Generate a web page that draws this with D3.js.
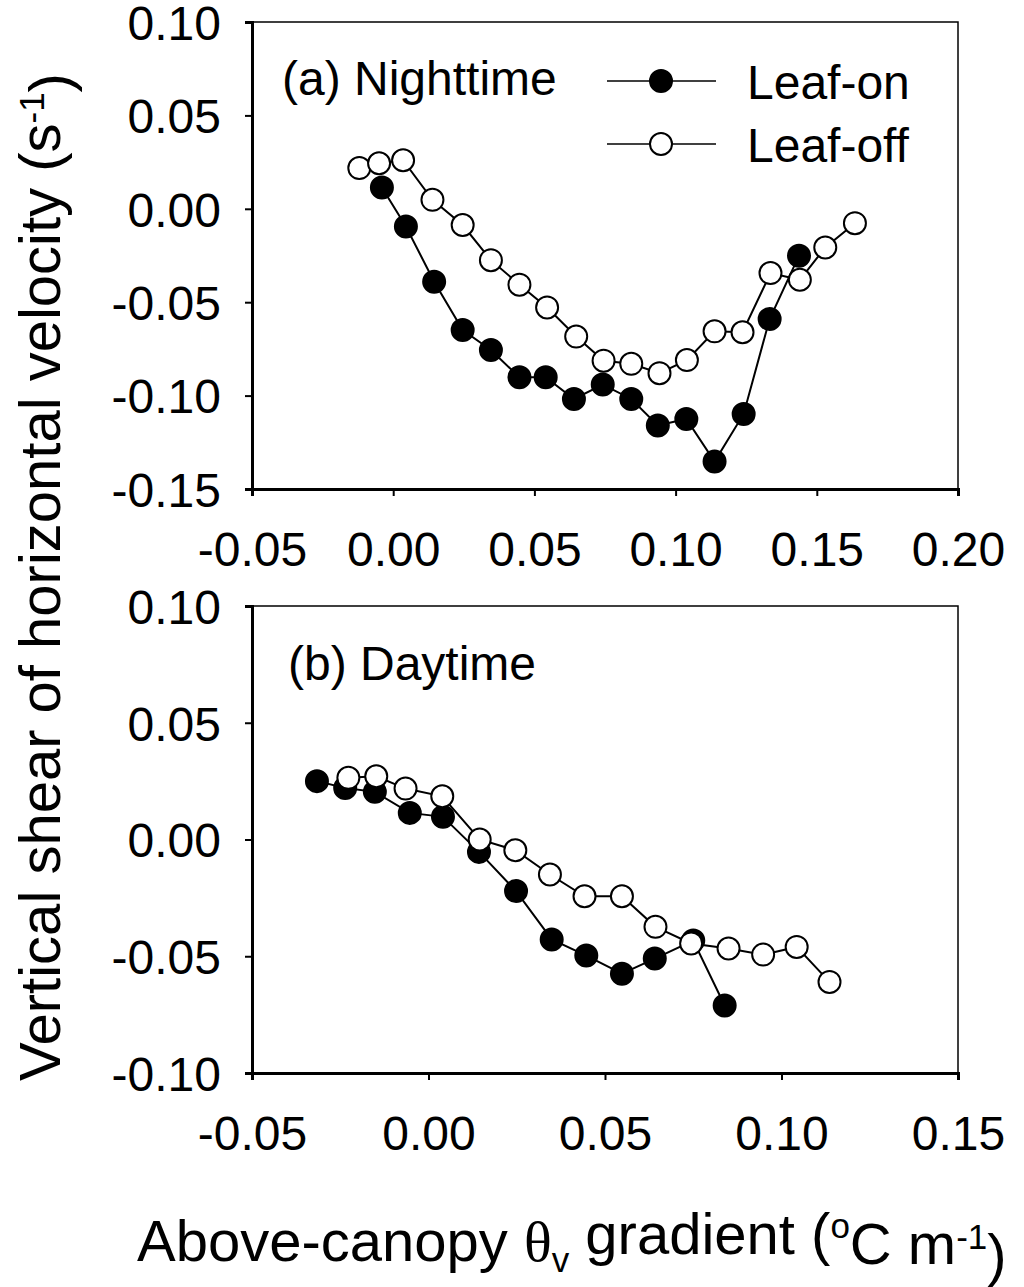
<!DOCTYPE html>
<html>
<head>
<meta charset="utf-8">
<script src="https://cdn.jsdelivr.net/npm/d3@7"></script>
<style>
  body { margin: 0; background: #fff; }
  svg text { font-family: "Liberation Sans", Arial, sans-serif; fill: #000; }
</style>
</head>
<body>
<div id="chart"></div>
<script>
// (a) Nighttime
var nightOnX = [-0.004, 0.0045, 0.0145, 0.0246, 0.0346, 0.0447, 0.054, 0.064, 0.0742, 0.0843, 0.0937, 0.1038, 0.1138, 0.1241, 0.1333, 0.1437];
var nightOnY = [0.0114, -0.0095, -0.039, -0.0649, -0.0756, -0.0902, -0.0902, -0.1018, -0.0941, -0.1018, -0.116, -0.1125, -0.1353, -0.1098, -0.059, -0.0251];
var nightOffX = [-0.012, -0.005, 0.0035, 0.0139, 0.0246, 0.0346, 0.0447, 0.0545, 0.0648, 0.0745, 0.0843, 0.0943, 0.104, 0.1138, 0.1237, 0.1336, 0.144, 0.153, 0.1635];
var nightOffY = [0.0218, 0.0244, 0.026, 0.0048, -0.0087, -0.0275, -0.0406, -0.0528, -0.0684, -0.0813, -0.083, -0.088, -0.081, -0.0656, -0.0661, -0.0344, -0.038, -0.0207, -0.0077];

// (b) Daytime
var dayOnX = [-0.0316, -0.0236, -0.0152, -0.0053, 0.0041, 0.0143, 0.0248, 0.0349, 0.0447, 0.0548, 0.0641, 0.075, 0.0839];
var dayOnY = [0.025, 0.0221, 0.0204, 0.0114, 0.0097, -0.0053, -0.0221, -0.0428, -0.0497, -0.0575, -0.051, -0.0433, -0.0711];
var dayOffX = [-0.0227, -0.0148, -0.0065, 0.0039, 0.0145, 0.0246, 0.0344, 0.0442, 0.0548, 0.0643, 0.0744, 0.085, 0.0948, 0.1043, 0.1136];
var dayOffY = [0.0264, 0.0271, 0.0218, 0.0185, 0.0, -0.0046, -0.015, -0.0243, -0.0243, -0.0374, -0.0445, -0.0467, -0.0493, -0.046, -0.061];

var topXTicks = [-0.05, 0.0, 0.05, 0.1, 0.15, 0.2];
var topYTicks = [0.1, 0.05, 0.0, -0.05, -0.1, -0.15];
var botXTicks = [-0.05, 0.0, 0.05, 0.1, 0.15];
var botYTicks = [0.1, 0.05, 0.0, -0.05, -0.1];

var seriesNames = ["Leaf-on", "Leaf-off"];

function zip(xs, ys) {
  return xs.map(function (x, i) { return { x: x, y: ys[i] }; });
}

var W = 1024, H = 1287;
var svg = d3.select("#chart").append("svg")
  .attr("width", W).attr("height", H);

// plain hyphen instead of the unicode minus, like the original
var fmt = function (d) { return d3.format(".2f")(d).replace("\u2212", "-"); };

function drawPanel(opt) {
  var x = d3.scaleLinear().domain(opt.xDomain).range([252, 958]);
  var y = d3.scaleLinear().domain(opt.yDomain).range([opt.bottom, opt.top]);
  var g = svg.append("g");

  // frame
  g.append("rect")
    .attr("x", 252).attr("y", opt.top)
    .attr("width", 706).attr("height", opt.bottom - opt.top)
    .attr("fill", "none").attr("stroke", "#000").attr("stroke-width", 1.5);

  var xAxis = g.append("g")
    .attr("transform", "translate(0," + opt.bottom + ")")
    .call(d3.axisBottom(x).tickValues(opt.xTicks).tickFormat(fmt).tickSize(7).tickPadding(36));
  var yAxis = g.append("g")
    .attr("transform", "translate(252,0)")
    .call(d3.axisLeft(y).tickValues(opt.yTicks).tickFormat(fmt).tickSize(7).tickPadding(24));
  [xAxis, yAxis].forEach(function (a) {
    a.select(".domain").attr("stroke-width", 3);
    a.selectAll(".tick line").attr("stroke-width", 2);
    a.selectAll("text").style("font-size", "48px")
      .style("font-family", "'Liberation Sans', Arial, sans-serif");
  });
  xAxis.selectAll("text").attr("dy", "0.71em");
  yAxis.selectAll("text").attr("dy", "0.36em");

  var line = d3.line().x(function (d) { return x(d.x); }).y(function (d) { return y(d.y); });

  opt.series.forEach(function (s) {
    g.append("path").datum(s.data)
      .attr("d", line)
      .attr("fill", "none").attr("stroke", "#000").attr("stroke-width", 2);
    g.selectAll(null).data(s.data).enter().append("circle")
      .attr("cx", function (d) { return x(d.x); })
      .attr("cy", function (d) { return y(d.y); })
      .attr("r", 11)
      .attr("fill", s.fill).attr("stroke", "#000").attr("stroke-width", 2);
  });

  g.append("text")
    .attr("x", opt.labelX).attr("y", opt.labelY)
    .style("font-size", "48px")
    .text(opt.label);
  return g;
}

drawPanel({
  top: 22, bottom: 489,
  xDomain: [-0.05, 0.2], yDomain: [-0.15, 0.1],
  xTicks: topXTicks, yTicks: topYTicks,
  series: [
    { data: zip(nightOnX, nightOnY), fill: "#000" },
    { data: zip(nightOffX, nightOffY), fill: "#fff" }
  ],
  label: "(a) Nighttime", labelX: 282, labelY: 95
});

drawPanel({
  top: 606, bottom: 1073,
  xDomain: [-0.05, 0.15], yDomain: [-0.1, 0.1],
  xTicks: botXTicks, yTicks: botYTicks,
  series: [
    { data: zip(dayOnX, dayOnY), fill: "#000" },
    { data: zip(dayOffX, dayOffY), fill: "#fff" }
  ],
  label: "(b) Daytime", labelX: 288, labelY: 680
});

// legend
var legend = svg.append("g");
var legendFill = ["#000", "#fff"];
seriesNames.forEach(function (name, i) {
  var ly = 81 + i * 63;
  legend.append("line")
    .attr("x1", 607).attr("x2", 716).attr("y1", ly).attr("y2", ly)
    .attr("stroke", "#000").attr("stroke-width", 1.5);
  legend.append("circle")
    .attr("cx", 661).attr("cy", ly).attr("r", 11)
    .attr("fill", legendFill[i]).attr("stroke", "#000").attr("stroke-width", 2);
  legend.append("text")
    .attr("x", 747).attr("y", ly + 18)
    .style("font-size", "48px")
    .text(name);
});

// axis titles
var yTitle = svg.append("text")
  .attr("transform", "translate(60,577) rotate(-90)")
  .attr("text-anchor", "middle")
  .style("font-size", "58px");
yTitle.append("tspan").text("Vertical shear of horizontal velocity (s");
yTitle.append("tspan").attr("dy", "-0.45em").style("font-size", "35px").text("-1");
yTitle.append("tspan").attr("dy", "0.45em").text(")");

var xTitle = svg.append("text")
  .attr("x", 137).attr("y", 1261)
  .style("font-size", "58px");
xTitle.append("tspan").text("Above-canopy ");
xTitle.append("tspan").style("font-family", "'Liberation Serif', serif").text("\u03b8");
xTitle.append("tspan").attr("dy", "0.3em").style("font-size", "35px").text("v");
xTitle.append("tspan").attr("dy", "-0.3em").text(" gradient (");
xTitle.append("tspan").attr("dy", "-0.45em").style("font-size", "35px").text("o");
xTitle.append("tspan").attr("dy", "0.45em").text("C m");
xTitle.append("tspan").attr("dy", "-0.45em").style("font-size", "35px").text("-1");
xTitle.append("tspan").attr("dy", "0.45em").text(")");
</script>
</body>
</html>
